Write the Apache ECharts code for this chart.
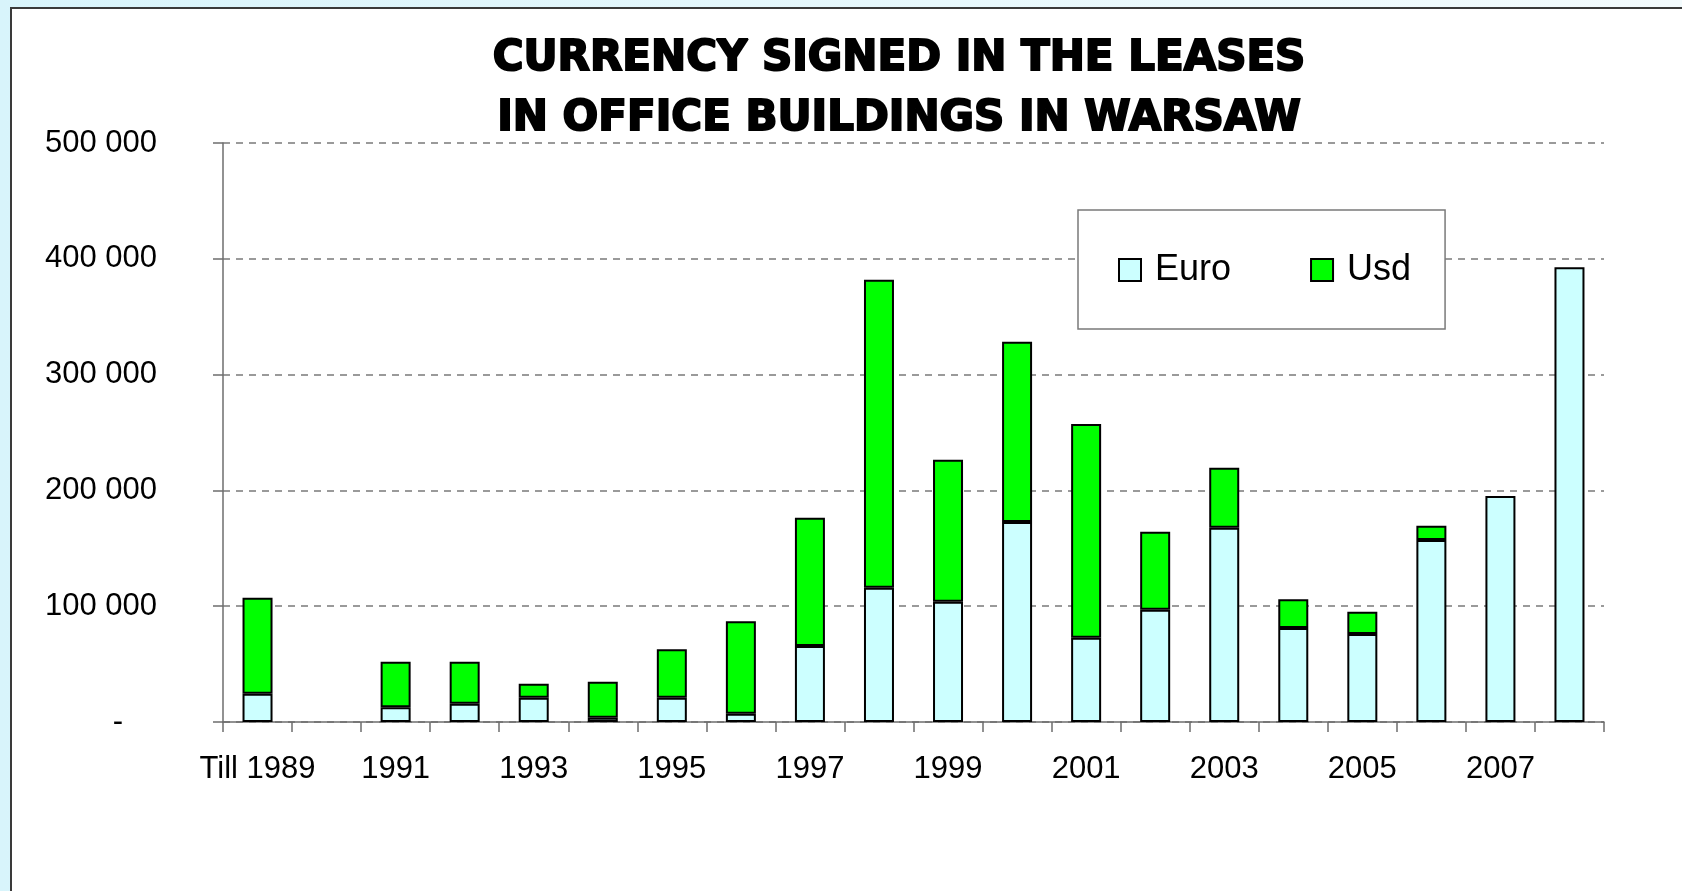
<!DOCTYPE html>
<html>
<head>
<meta charset="utf-8">
<script src="https://cdn.jsdelivr.net/npm/echarts@6/dist/echarts.min.js"></script>
<style>
  html, body { margin: 0; padding: 0; }
  body {
    width: 1682px; height: 891px; overflow: hidden; position: relative;
    background: linear-gradient(to right, #d8f4fb, #f3fbfd);
  }
  .frame {
    position: absolute; left: 10px; top: 7px; width: 1700px; height: 900px;
    background: #fff; border-left: 2px solid #3a3a3a; border-top: 2px solid #3a3a3a;
  }
  #chart { position: absolute; left: 0; top: 0; width: 1682px; height: 891px; }
</style>
</head>
<body>
<div class="frame"></div>
<div id="chart"></div>
<script>
  // categories and values
  var years = ['Till 1989', '1990', '1991', '1992', '1993', '1994', '1995', '1996', '1997', '1998',
               '1999', '2000', '2001', '2002', '2003', '2004', '2005', '2006', '2007', '2008'];
  var euro = [24400, null, 12700, 15800, 21000, 3700, 21000, 7200, 65600, 116000,
              103900, 172700, 72800, 97000, 167800, 81200, 76000, 157200, 195200, 392700];
  var usd = [82900, null, 39400, 36300, 12100, 31100, 41800, 79800, 110800, 266000,
             122600, 155700, 184500, 67300, 51800, 24800, 19300, 12300, null, null];

  var chart = echarts.init(document.getElementById('chart'));

  function fmt(v) {
    if (v === 0) return '{z|-}';
    return String(v).replace(/\B(?=(\d{3})+(?!\d))/g, ' ');
  }

  chart.setOption({
    animation: false,
    title: {
      text: 'CURRENCY SIGNED IN THE LEASES\nIN OFFICE BUILDINGS IN WARSAW',
      left: 899,
      top: 29,
      padding: 0,
      textAlign: 'center',
      textStyle: {
        fontFamily: 'DejaVu Sans',
        fontWeight: 'bold',
        fontSize: 42,
        lineHeight: 60,
        color: '#000',
        textBorderColor: '#000',
        textBorderWidth: 2
      }
    },
    legend: {
      data: ['Euro', 'Usd'],
      left: 1078,
      top: 210,
      orient: 'horizontal',
      backgroundColor: '#fff',
      borderColor: '#7a7a7a',
      borderWidth: 1.5,
      borderRadius: 0,
      padding: [42, 34, 41, 40],
      itemWidth: 22,
      itemHeight: 22,
      itemGap: 79,
      icon: 'rect',
      textStyle: {
        fontFamily: 'Liberation Sans',
        fontSize: 36,
        lineHeight: 36,
        color: '#000',
        padding: [0, 0, 0, 9]
      }
    },
    grid: { left: 223, right: 78, top: 143, bottom: 169 },
    xAxis: {
      type: 'category',
      data: years,
      axisLine: { lineStyle: { color: '#6e6e6e', width: 1.5 } },
      axisTick: { show: true, interval: 0, length: 10, lineStyle: { color: '#6e6e6e', width: 1.5 } },
      axisLabel: {
        interval: 1,
        margin: 32,
        fontFamily: 'Liberation Sans',
        fontSize: 31,
        color: '#000'
      }
    },
    yAxis: {
      type: 'value',
      min: 0,
      max: 500000,
      interval: 100000,
      axisLine: { show: true, lineStyle: { color: '#6e6e6e', width: 1.5 } },
      axisTick: { show: true, length: 10, lineStyle: { color: '#6e6e6e', width: 1.5 } },
      splitLine: { lineStyle: { color: '#7a7a7a', width: 1.5, type: [7, 6] } },
      axisLabel: {
        margin: 66,
        fontFamily: 'Liberation Sans',
        fontSize: 31,
        color: '#000',
        formatter: fmt,
        rich: {
          z: { fontFamily: 'Liberation Sans', fontSize: 31, color: '#000', padding: [0, 34, 0, 0] }
        }
      }
    },
    series: [
      {
        name: 'Euro',
        type: 'bar',
        stack: 'total',
        barWidth: 30,
        data: euro,
        itemStyle: { color: '#ccffff', borderColor: '#000', borderWidth: 2 }
      },
      {
        name: 'Usd',
        type: 'bar',
        stack: 'total',
        barWidth: 30,
        data: usd,
        itemStyle: { color: '#00ff00', borderColor: '#000', borderWidth: 2 }
      }
    ]
  });
</script>
</body>
</html>
